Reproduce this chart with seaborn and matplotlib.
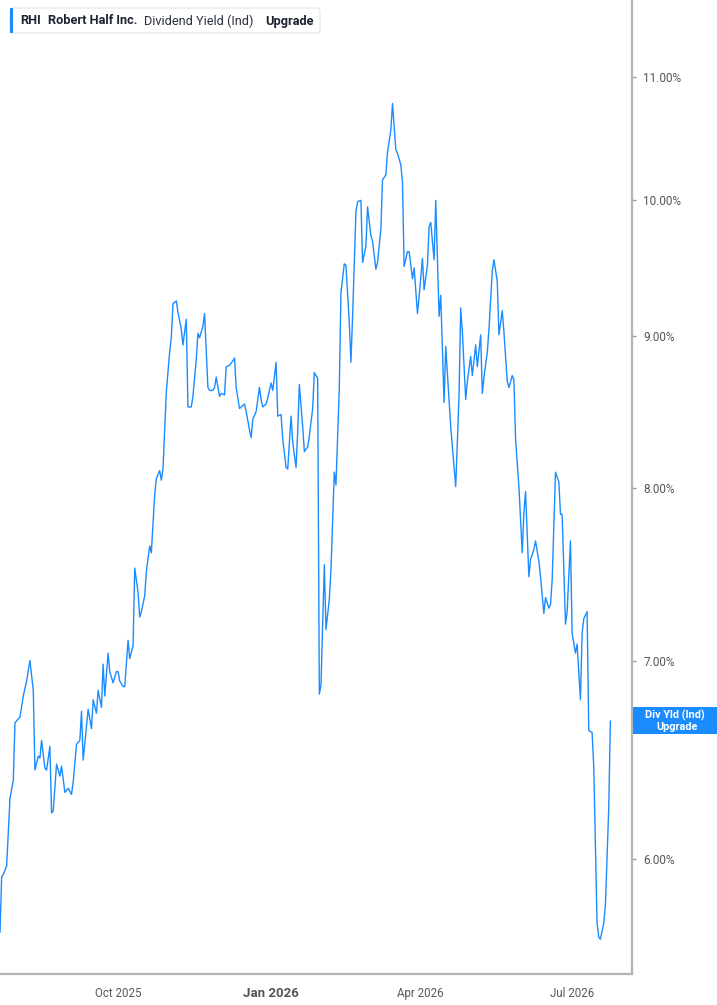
import numpy as np
import pandas as pd
import matplotlib
matplotlib.use("Agg")
import matplotlib.pyplot as plt
from matplotlib.patches import FancyBboxPatch, Rectangle
from matplotlib.ticker import FixedLocator, NullLocator
import seaborn as sns

# ---------------- data ----------------
dates = [
    "2025-07-22", "2025-07-23", "2025-07-24", "2025-07-26", "2025-07-28", "2025-07-30", "2025-07-31",
    "2025-08-02", "2025-08-03", "2025-08-05", "2025-08-07", "2025-08-09",
    "2025-08-11", "2025-08-12", "2025-08-14", "2025-08-15", "2025-08-16", "2025-08-18", "2025-08-19",
    "2025-08-21", "2025-08-22", "2025-08-23", "2025-08-25", "2025-08-27", "2025-08-28", "2025-08-30", "2025-08-31",
    "2025-09-01", "2025-09-03", "2025-09-04", "2025-09-06", "2025-09-08", "2025-09-09", "2025-09-10",
    "2025-09-12", "2025-09-13", "2025-09-15", "2025-09-16", "2025-09-18", "2025-09-19", "2025-09-21",
    "2025-09-22", "2025-09-23", "2025-09-25", "2025-09-26", "2025-09-28", "2025-09-30",
    "2025-10-01", "2025-10-02", "2025-10-04", "2025-10-05", "2025-10-07", "2025-10-08", "2025-10-10",
    "2025-10-11", "2025-10-13", "2025-10-14", "2025-10-15", "2025-10-17", "2025-10-18", "2025-10-20",
    "2025-10-21", "2025-10-23", "2025-10-24", "2025-10-26", "2025-10-27", "2025-10-28", "2025-10-30",
    "2025-11-01", "2025-11-02", "2025-11-03", "2025-11-05", "2025-11-06", "2025-11-08", "2025-11-09",
    "2025-11-11", "2025-11-12", "2025-11-14", "2025-11-15", "2025-11-17", "2025-11-18", "2025-11-19",
    "2025-11-21", "2025-11-22", "2025-11-24", "2025-11-25", "2025-11-27", "2025-11-28", "2025-11-29",
    "2025-12-01", "2025-12-02", "2025-12-04", "2025-12-05", "2025-12-07", "2025-12-09", "2025-12-10",
    "2025-12-11", "2025-12-13", "2025-12-14", "2025-12-16", "2025-12-17", "2025-12-19", "2025-12-20",
    "2025-12-21", "2025-12-23", "2025-12-25", "2025-12-26", "2025-12-27", "2025-12-29", "2025-12-30",
    "2026-01-01", "2026-01-02", "2026-01-04", "2026-01-05", "2026-01-07", "2026-01-08", "2026-01-10",
    "2026-01-11", "2026-01-13", "2026-01-14", "2026-01-16", "2026-01-17", "2026-01-18", "2026-01-20",
    "2026-01-21", "2026-01-23", "2026-01-24", "2026-01-26", "2026-01-27", "2026-01-29", "2026-01-30", "2026-01-31",
    "2026-02-02", "2026-02-03", "2026-02-05", "2026-02-06", "2026-02-08", "2026-02-09", "2026-02-11",
    "2026-02-12", "2026-02-14", "2026-02-15", "2026-02-17", "2026-02-18", "2026-02-19", "2026-02-21",
    "2026-02-22", "2026-02-24", "2026-02-25", "2026-02-27", "2026-02-28",
    "2026-03-02", "2026-03-03", "2026-03-05", "2026-03-06", "2026-03-08", "2026-03-09", "2026-03-11",
    "2026-03-12", "2026-03-14", "2026-03-15", "2026-03-17", "2026-03-18", "2026-03-20", "2026-03-21",
    "2026-03-22", "2026-03-24", "2026-03-25", "2026-03-27", "2026-03-28", "2026-03-30", "2026-03-31",
    "2026-04-02", "2026-04-03", "2026-04-05", "2026-04-06", "2026-04-07", "2026-04-09", "2026-04-10",
    "2026-04-12", "2026-04-13", "2026-04-15", "2026-04-16", "2026-04-18", "2026-04-19", "2026-04-21",
    "2026-04-22", "2026-04-24", "2026-04-25", "2026-04-26", "2026-04-28", "2026-04-29",
    "2026-05-01", "2026-05-02", "2026-05-04", "2026-05-05", "2026-05-07", "2026-05-08", "2026-05-09",
    "2026-05-11", "2026-05-12", "2026-05-14", "2026-05-15", "2026-05-17", "2026-05-18", "2026-05-20",
    "2026-05-21", "2026-05-23", "2026-05-24", "2026-05-26", "2026-05-27", "2026-05-28", "2026-05-30",
    "2026-06-01", "2026-06-02", "2026-06-03", "2026-06-05", "2026-06-06", "2026-06-08", "2026-06-09",
    "2026-06-11", "2026-06-12", "2026-06-14", "2026-06-15", "2026-06-17", "2026-06-18", "2026-06-19",
    "2026-06-21", "2026-06-23", "2026-06-24", "2026-06-25", "2026-06-27", "2026-06-28", "2026-06-30",
    "2026-07-01", "2026-07-03", "2026-07-04", "2026-07-06", "2026-07-07", "2026-07-08", "2026-07-10",
    "2026-07-11", "2026-07-13", "2026-07-14", "2026-07-16", "2026-07-17", "2026-07-18", "2026-07-20",
    "2026-07-21", "2026-07-23", "2026-07-24",
]

div_yield = [
    5.67, 5.92, 5.93, 5.97, 6.29, 6.38, 6.67, 6.69, 6.70, 6.81, 6.89, 7.00,
    6.84, 6.43, 6.50, 6.49, 6.58, 6.44, 6.43, 6.55, 6.22, 6.23, 6.46, 6.40, 6.45, 6.32, 6.33,
    6.34, 6.31, 6.37, 6.56, 6.58, 6.73, 6.48, 6.65, 6.74, 6.64, 6.79, 6.72, 6.84, 6.75, 6.98, 6.81,
    7.04, 6.94, 6.88, 6.94,
    6.94, 6.89, 6.86, 6.86, 7.11, 7.01, 7.08, 7.52, 7.38, 7.24, 7.27, 7.36, 7.50, 7.65, 7.61, 7.96,
    8.06, 8.11, 8.05, 8.12, 8.62,
    8.89, 8.99, 9.23, 9.25, 9.17, 9.05, 8.94, 9.12, 8.52, 8.52, 8.59, 8.84, 9.02, 8.99, 9.07, 9.16,
    8.65, 8.63, 8.63, 8.65, 8.72,
    8.59, 8.61, 8.60, 8.79, 8.80, 8.83, 8.85, 8.65, 8.51, 8.52, 8.54, 8.49, 8.37, 8.32, 8.44, 8.49,
    8.65, 8.57, 8.52, 8.54, 8.58,
    8.68, 8.63, 8.82, 8.46, 8.47, 8.31, 8.13, 8.12, 8.46, 8.29, 8.13, 8.36, 8.67, 8.39, 8.23, 8.26,
    8.33, 8.51, 8.75, 8.71, 6.82, 6.87,
    7.54, 7.17, 7.34, 7.51, 8.10, 8.02, 8.64, 9.31, 9.52, 9.51, 9.10, 8.82, 9.14, 9.91, 9.99, 10.00,
    9.53, 9.65, 9.95,
    9.73, 9.69, 9.48, 9.53, 9.78, 10.16, 10.20, 10.38, 10.56, 10.78, 10.40, 10.37, 10.28, 10.14, 9.50,
    9.61, 9.61, 9.41, 9.49, 9.16, 9.28,
    9.56, 9.33, 9.51, 9.80, 9.83, 9.55, 10.00, 9.14, 9.29, 8.55, 8.93, 8.57, 8.39, 8.14, 8.01, 8.59,
    9.20, 9.03, 8.57, 8.69,
    8.86, 8.73, 8.94, 8.79, 9.01, 8.61, 8.72, 8.89, 9.05, 9.47, 9.55, 9.39, 9.01, 9.18, 9.03, 8.69,
    8.65, 8.73, 8.70, 8.31, 8.01,
    7.61, 7.85, 7.98, 7.47, 7.57, 7.63, 7.68, 7.56, 7.47, 7.26, 7.35, 7.29, 7.31, 7.45, 8.10, 8.04,
    7.84, 7.84, 7.20, 7.27, 7.68,
    7.15, 7.04, 7.09, 6.79, 7.15, 7.23, 7.27, 6.63, 6.62, 6.45, 5.71, 5.65, 5.64, 5.71, 5.79, 6.24,
    6.68,
]

x_tick_dates = ["2025-10-01", "2026-01-01", "2026-04-01", "2026-07-01"]
x_tick_labels = ["Oct 2025", "Jan 2026", "Apr 2026", "Jul 2026"]
y_ticks = [6, 7, 8, 9, 10, 11]
y_tick_labels = ["6.00%", "7.00%", "8.00%", "9.00%", "10.00%", "11.00%"]
x_range = ["2025-07-22", "2026-08-06"]
y_range = [5.49, 11.68]

header_parts = ["RHI", "Robert Half Inc.", "Dividend Yield (Ind)", "Upgrade"]
value_label = ["Div Yld (Ind)", "Upgrade"]

# ---------------- style ----------------
sns.set_style("white")
plt.rcParams["font.family"] = ["Roboto", "DejaVu Sans"]

LINE = "#1a8cff"
W, H = 717, 1005


def fx(px):
    return px / W


def fy(py):
    return 1 - py / H


df = pd.DataFrame({"date": pd.to_datetime(dates), "yield": div_yield})

fig = plt.figure(figsize=(W / 100, H / 100), dpi=100)
ax = fig.add_axes([0, fy(974), fx(632), 974 / H])

sns.lineplot(data=df, x="date", y="yield", ax=ax, color=LINE, linewidth=1.0)

ax.set_yscale("log")
ax.set_ylim(*y_range)
ax.set_xlim(pd.to_datetime(x_range[0]), pd.to_datetime(x_range[1]))
ax.set_xlabel("")
ax.set_ylabel("")

ax.yaxis.tick_right()
ax.yaxis.set_major_locator(FixedLocator(y_ticks))
ax.yaxis.set_minor_locator(NullLocator())
ax.set_yticklabels(y_tick_labels)

ax.set_xticks(pd.to_datetime(x_tick_dates))
ax.set_xticklabels(x_tick_labels)

for s in ["left", "top"]:
    ax.spines[s].set_visible(False)
for s in ["right", "bottom"]:
    ax.spines[s].set_color("#b4b4b4")
    ax.spines[s].set_linewidth(1.6)

ax.tick_params(axis="y", which="major", direction="out", length=3, width=1,
               color="#999999", labelsize=8.5, labelcolor="#555555", pad=5)
ax.tick_params(axis="x", which="major", direction="out", length=4, width=1,
               color="#aaaaaa", labelsize=8.3, labelcolor="#5a5a5a", pad=5)
for lbl in ax.get_xticklabels():
    if lbl.get_text().startswith("Jan"):
        lbl.set_fontweight("bold")
        lbl.set_fontsize(9.5)
        lbl.set_color("#555555")

# ---------------- header legend box ----------------
box = FancyBboxPatch((fx(10), fy(33)), fx(310), 25 / H,
                     boxstyle="round,pad=0,rounding_size=0.004",
                     transform=fig.transFigure, facecolor="white",
                     edgecolor="#e4e4e4", linewidth=0.8, zorder=5)
fig.patches.append(box)
bar = Rectangle((fx(10), fy(33)), fx(3), 25 / H, transform=fig.transFigure,
                facecolor=LINE, edgecolor="none", zorder=6)
fig.patches.append(bar)

hdr_x = [20, 48, 144, 265]
hdr_w = ["bold", "bold", "normal", "bold"]
hdr_c = ["#1c2331", "#1c2331", "#2b3040", "#1c2331"]
for t, px, wgt, c in zip(header_parts, hdr_x, hdr_w, hdr_c):
    fig.text(fx(px), fy(21), t, ha="left", va="center", fontsize=9.2,
             fontweight=wgt, color=c, zorder=7)

# ---------------- last value label ----------------
fig.canvas.draw()
last_val = div_yield[-1]
y_disp = ax.transData.transform((0, last_val))[1]
y_fig = y_disp / fig.bbox.height
lab_h = 27 / H
lab = Rectangle((fx(633), y_fig - lab_h / 2), fx(84), lab_h,
                transform=fig.transFigure, facecolor=LINE, edgecolor="none", zorder=5)
fig.patches.append(lab)
fig.text(fx(675), y_fig + 6 / H, value_label[0], ha="center", va="center",
         fontsize=7.8, fontweight="bold", color="white", zorder=6)
fig.text(fx(677), y_fig - 6.5 / H, value_label[1], ha="center", va="center",
         fontsize=7.8, fontweight="bold", color="white", zorder=6)

fig.savefig("out.png", dpi=100)
